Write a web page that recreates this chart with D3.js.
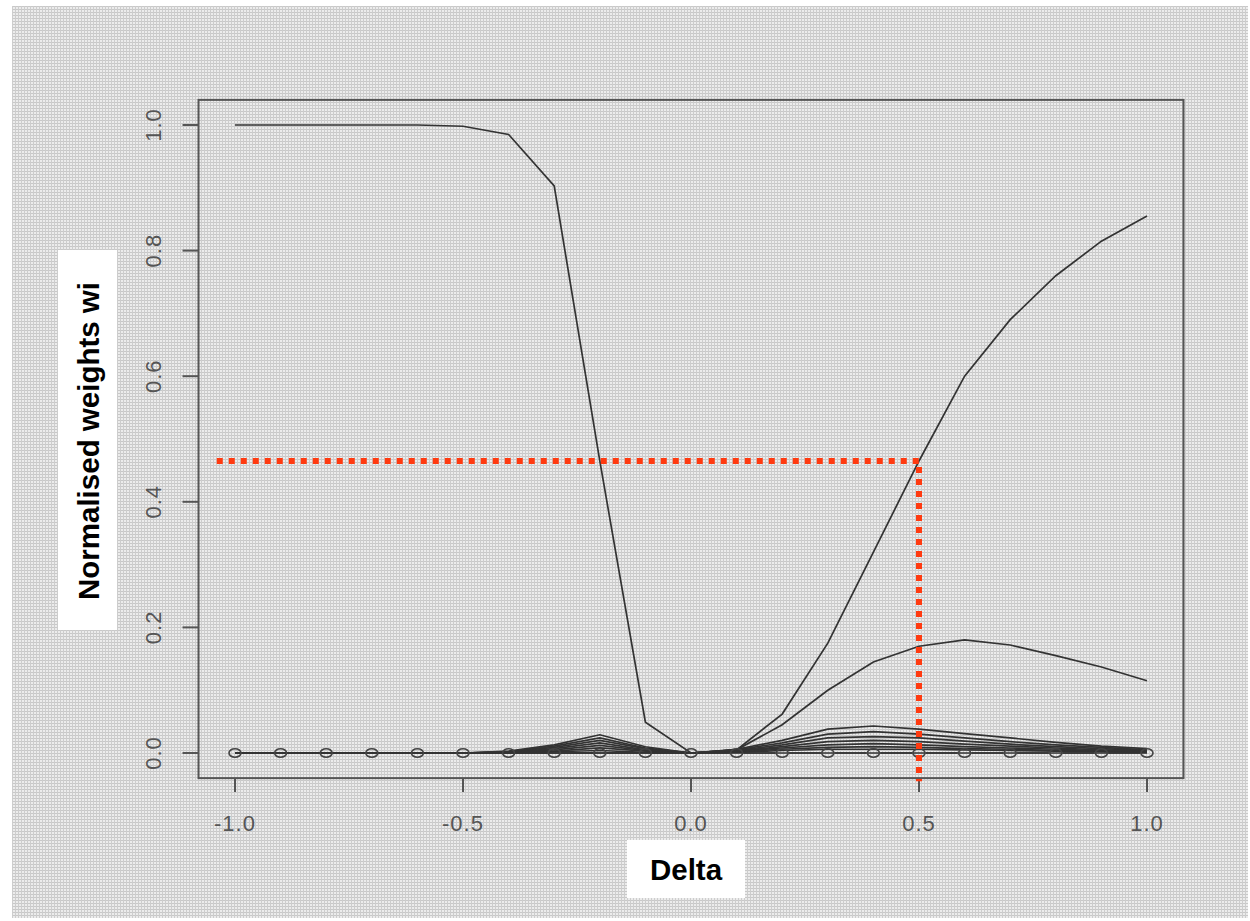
<!DOCTYPE html>
<meta charset="utf-8">
<body style="margin:0;background:#fff">
    <div id='chart'></div>
</body>
<script src="https://d3js.org/d3.v7.min.js"></script>
<style>
    text { font-family: "Liberation Sans", Arial, sans-serif; }
    .tick-label { fill: #555; font-size: 22px; letter-spacing: 1px; }
    .title { fill: #000; font-size: 29.5px; font-weight: bold; }
</style>
<script>
    // delta values
    var deltas = [-1.0,-0.9,-0.8,-0.7,-0.6,-0.5,-0.4,-0.3,-0.2,-0.1,0.0,0.1,0.2,0.3,0.4,0.5,0.6,0.7,0.8,0.9,1.0];

    // normalised weights, one array per model
    var wDown  = [1,1,1,1,1,0.998,0.985,0.903,0.465,0.049,0,0,0,0,0,0,0,0,0,0,0];
    var wUp    = [0,0,0,0,0,0,0,0,0,0,0,0.005,0.062,0.175,0.32,0.465,0.6,0.69,0.76,0.815,0.855];
    var wMid   = [0,0,0,0,0,0,0,0,0,0,0,0.005,0.045,0.1,0.145,0.17,0.18,0.172,0.155,0.137,0.115];
    var wSmall1 = [0,0,0,0,0,0,0.003,0.013,0.029,0.010,0,0.006,0.020,0.038,0.043,0.038,0.031,0.024,0.017,0.011,0.007];
    var wSmall2 = [0,0,0,0,0,0,0.002,0.011,0.024,0.008,0,0.005,0.016,0.030,0.034,0.030,0.024,0.018,0.013,0.009,0.005];
    var wSmall3 = [0,0,0,0,0,0,0.002,0.009,0.020,0.007,0,0.004,0.013,0.024,0.026,0.024,0.019,0.014,0.010,0.007,0.004];
    var wSmall4 = [0,0,0,0,0,0,0.001,0.007,0.016,0.005,0,0.003,0.010,0.018,0.020,0.018,0.014,0.011,0.008,0.005,0.003];
    var wSmall5 = [0,0,0,0,0,0,0.001,0.005,0.012,0.004,0,0.003,0.008,0.013,0.015,0.013,0.010,0.008,0.006,0.004,0.002];
    var wSmall6 = [0,0,0,0,0,0,0,0.003,0.008,0.003,0,0.002,0.006,0.009,0.010,0.009,0.007,0.006,0.004,0.003,0.002];
    var wSmall7 = [0,0,0,0,0,0,0,0.002,0.004,0.001,0,0.001,0.004,0.006,0.006,0.006,0.005,0.004,0.003,0.002,0.001];
    var wZero  = [0,0,0,0,0,0,0,0,0,0,0,0,0,0,0,0,0,0,0,0,0];

    var xTicks = [-1.0,-0.5,0.0,0.5,1.0];
    var yTicks = [0.0,0.2,0.4,0.6,0.8,1.0];

    // red reference lines
    var refDelta = 0.5, refWeight = 0.465;

    var width = 1250, height = 921;

    var svg = d3.select("#chart").append("svg")
        .attr("width", width).attr("height", height);

    // dithered grey background
    var pat = svg.append("defs").append("pattern")
        .attr("id", "dither").attr("width", 3).attr("height", 3)
        .attr("patternUnits", "userSpaceOnUse");
    pat.append("rect").attr("width", 3).attr("height", 3).attr("fill", "#ececec");
    pat.append("rect").attr("width", 3).attr("height", 1).attr("fill", "#c8c8c8");
    pat.append("rect").attr("width", 1).attr("height", 3).attr("fill", "#cdcdcd");

    svg.append("rect").attr("x", 12).attr("y", 6).attr("width", 1236).attr("height", 912)
        .attr("fill", "url(#dither)");

    var x = d3.scaleLinear().domain([-1, 1]).range([235, 1147]);
    var y = d3.scaleLinear().domain([0, 1]).range([753, 125]);

    // R style frame, 4% past the data range
    svg.append("rect")
        .attr("x", x(-1.08)).attr("y", y(1.04))
        .attr("width", x(1.08) - x(-1.08)).attr("height", y(-0.04) - y(1.04))
        .attr("fill", "none").attr("stroke", "#555").attr("stroke-width", 2);

    // x axis ticks
    var xg = svg.append("g");
    xg.selectAll("line").data(xTicks).enter().append("line")
        .attr("x1", d => x(d)).attr("x2", d => x(d))
        .attr("y1", y(-0.04)).attr("y2", y(-0.04) + 14)
        .attr("stroke", "#555").attr("stroke-width", 2);
    xg.selectAll("text").data(xTicks).enter().append("text")
        .attr("class", "tick-label")
        .attr("x", d => x(d)).attr("y", 831)
        .attr("text-anchor", "middle")
        .text(d => d.toFixed(1));

    // y axis ticks
    var yg = svg.append("g");
    yg.selectAll("line").data(yTicks).enter().append("line")
        .attr("x1", x(-1.08) - 16).attr("x2", x(-1.08))
        .attr("y1", d => y(d)).attr("y2", d => y(d))
        .attr("stroke", "#555").attr("stroke-width", 2);
    yg.selectAll("text").data(yTicks).enter().append("text")
        .attr("class", "tick-label")
        .attr("transform", d => "translate(161," + y(d) + ") rotate(-90)")
        .attr("text-anchor", "middle")
        .text(d => d.toFixed(1));

    // curves
    var line = d3.line().x((d, i) => x(deltas[i])).y(d => y(d));
    var series = [wSmall7, wSmall6, wSmall5, wSmall4, wSmall3, wSmall2, wSmall1, wMid, wUp, wDown];
    svg.append("g").selectAll("path").data(series).enter().append("path")
        .attr("d", line)
        .attr("fill", "none").attr("stroke", "#333").attr("stroke-width", 1.7);

    // zero series drawn with type "b": circles with gaps in the line
    var zg = svg.append("g");
    zg.selectAll("line").data(d3.range(deltas.length - 1)).enter().append("line")
        .attr("x1", i => x(deltas[i]) + 7).attr("x2", i => x(deltas[i + 1]) - 7)
        .attr("y1", i => y(wZero[i])).attr("y2", i => y(wZero[i + 1]))
        .attr("stroke", "#333").attr("stroke-width", 1.6);
    zg.selectAll("ellipse").data(wZero).enter().append("ellipse")
        .attr("cx", (d, i) => x(deltas[i])).attr("cy", d => y(d))
        .attr("rx", 6).attr("ry", 4.2)
        .attr("fill", "none").attr("stroke", "#444").attr("stroke-width", 1.6);

    // red dotted reference lines
    var red = svg.append("g").attr("stroke", "#ff3a10").attr("stroke-width", 6)
        .attr("stroke-dasharray", "6,6");
    red.append("line")
        .attr("x1", x(-1.04)).attr("x2", x(refDelta) + 3)
        .attr("y1", y(refWeight)).attr("y2", y(refWeight));
    red.append("line")
        .attr("x1", x(refDelta)).attr("x2", x(refDelta))
        .attr("y1", y(refWeight) + 6).attr("y2", y(-0.045));

    // axis titles in white boxes
    svg.append("rect").attr("x", 58).attr("y", 250).attr("width", 59).attr("height", 380).attr("fill", "#fff");
    svg.append("text").attr("class", "title")
        .attr("transform", "translate(99,441) rotate(-90)")
        .attr("text-anchor", "middle")
        .text("Normalised weights wi");

    svg.append("rect").attr("x", 627).attr("y", 840).attr("width", 118).attr("height", 58).attr("fill", "#fff");
    svg.append("text").attr("class", "title")
        .attr("x", 686).attr("y", 880)
        .attr("text-anchor", "middle")
        .text("Delta");
</script>
